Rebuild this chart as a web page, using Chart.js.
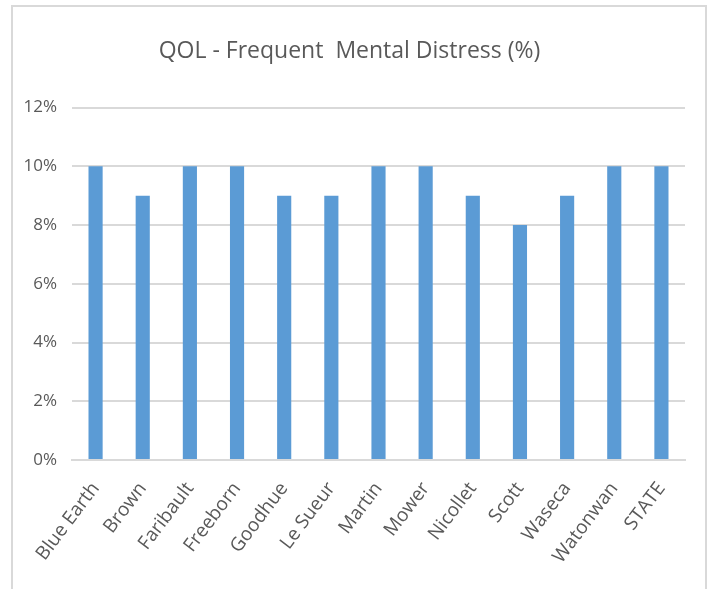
<!DOCTYPE html>
<html>
<head>
<meta charset="utf-8">
<script src="https://cdn.jsdelivr.net/npm/chart.js@4"></script>
<style>
  html, body { margin: 0; padding: 0; background: #fff; }
  #wrap { position: relative; width: 714px; height: 589px; overflow: hidden; }
  #frame { position: absolute; left: 11px; top: 5px; width: 692px; height: 640px; border: 2px solid #d9d9d9; }
  canvas { position: absolute; left: 0; top: 0; }
</style>
</head>
<body>
<div id="wrap">
  <div id="frame"></div>
  <canvas id="chart" width="714" height="589"></canvas>
</div>
<script>
const counties = ['Blue Earth', 'Brown', 'Faribault', 'Freeborn', 'Goodhue', 'Le Sueur',
  'Martin', 'Mower', 'Nicollet', 'Scott', 'Waseca', 'Watonwan', 'STATE'];
const distress = [10, 9, 10, 10, 9, 9, 10, 10, 9, 8, 9, 10, 10];

const fontFam = "'Open Sans', sans-serif";
const grey = '#595959';

const ctx = document.querySelector('#chart').getContext('2d');

new Chart(ctx, {
  type: 'bar',
  data: {
    labels: counties,
    datasets: [{
      label: 'Frequent Mental Distress',
      data: distress,
      backgroundColor: '#5b9bd5',
      barPercentage: 0.3,
      categoryPercentage: 1
    }]
  },
  options: {
    responsive: false,
    animation: false,
    layout: { padding: { left: 14, right: 29, top: 0, bottom: 0 } },
    plugins: {
      legend: { display: false },
      tooltip: { enabled: false },
      title: {
        display: true,
        text: 'QOL - Frequent  Mental Distress (%)',
        color: grey,
        font: { family: fontFam, size: 23, weight: 'normal' },
        padding: { top: 38, bottom: 42 }
      }
    },
    scales: {
      x: {
        grid: { display: false },
        border: { color: '#d9d9d9', width: 2 },
        ticks: {
          color: grey,
          font: { family: fontFam, size: 19 },
          minRotation: 53,
          maxRotation: 53,
          padding: 10
        },
        afterFit: s => { s.height = 129; }
      },
      y: {
        min: 0,
        max: 12,
        grid: { color: '#d9d9d9', lineWidth: 2, drawTicks: false },
        border: { display: false },
        ticks: {
          stepSize: 2,
          color: grey,
          padding: 15,
          font: { family: fontFam, size: 17 },
          callback: v => v + '%'
        },
        afterFit: s => { s.width = 58; }
      }
    }
  }
});
</script>
</body>
</html>
